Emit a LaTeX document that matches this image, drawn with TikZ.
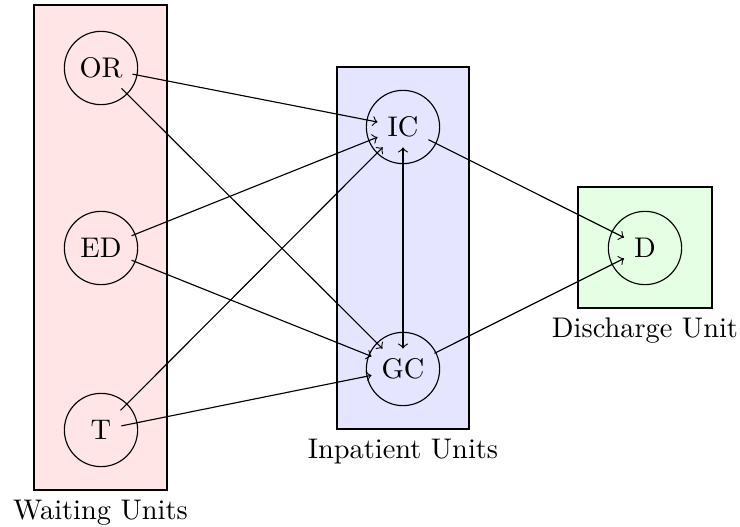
\documentclass[tikz,border=0pt]{standalone}
\begin{document}
\begin{tikzpicture}[x=0.3521pt,y=-0.3521pt,
  unitbox/.style={draw=black},
  ring/.style={draw=black},
  flow/.style={->},
  unitlabel/.style={anchor=north}]
\useasboundingbox (0,0) rectangle (740,527);
% unit boxes
\filldraw[unitbox,fill=red!10] (34,5) rectangle (167,490);
\filldraw[unitbox,fill=blue!10] (337,67) rectangle (469,429);
\filldraw[unitbox,fill=green!10] (578,187) rectangle (712,308);
\node[unitlabel] (wl) at (100.5,490) {Waiting Units};
\node[unitlabel] (il) at (403,429) {Inpatient Units};
\node[unitlabel] (dl) at (645,308) {Discharge Unit};
% state nodes
\node (OR) at (101,68) {OR};
\node (ED) at (101,248) {ED};
\node (T) at (101,430) {T};
\node (IC) at (403,127) {IC};
\node (GC) at (403,369) {GC};
\node (D) at (645,248) {D};
\foreach \n in {OR,ED,T,IC,GC,D}
  \draw[ring] (\n.center) circle[radius=12.9pt];
% flows
\draw[flow] (OR) -- (IC);
\draw[flow] (OR) -- (GC);
\draw[flow] (ED) -- (IC);
\draw[flow] (ED) -- (GC);
\draw[flow] (T) -- (IC);
\draw[flow] (T) -- (GC);
\draw[<->] (IC) -- (GC);
\draw[flow] (IC) -- (D);
\draw[flow] (GC) -- (D);
\end{tikzpicture}
\end{document}
